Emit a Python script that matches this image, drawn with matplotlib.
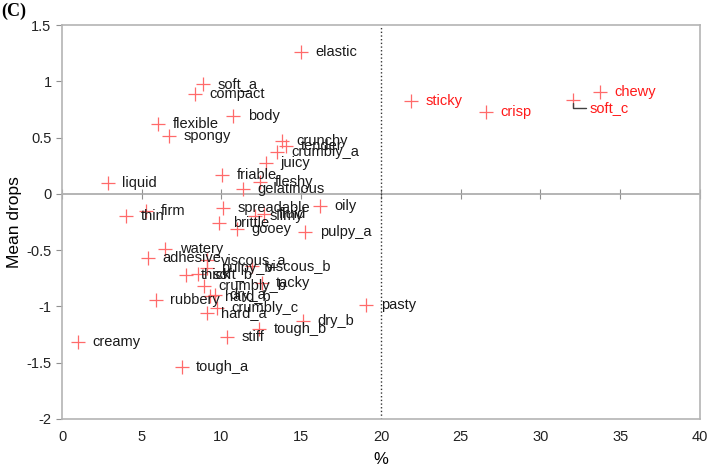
import numpy as np
import matplotlib
matplotlib.use('Agg')
import matplotlib.pyplot as plt
from matplotlib.ticker import FuncFormatter

plt.rcParams['font.family'] = ['Liberation Sans', 'DejaVu Sans']
plt.rcParams['axes.unicode_minus'] = False

# attributes (black labels)
names = ['elastic', 'soft_a', 'compact', 'body', 'flexible', 'spongy', 'crunchy', 'tender',
         'crumbly_a', 'juicy', 'friable', 'fleshy', 'gelatinous', 'liquid', 'thin', 'firm',
         'spreadable', 'oily', 'slimy', 'fluid', 'brittle', 'gooey', 'pulpy_a', 'watery',
         'adhesive', 'viscous_a', 'pulpy_b', 'viscous_b', 'thick', 'soft_b', 'tacky',
         'crumbly_b', 'hard_b', 'dry_a', 'rubbery', 'pasty', 'crumbly_c', 'hard_a',
         'tough_b', 'dry_b', 'stiff', 'creamy', 'tough_a']
pct = [14.97, 8.82, 8.34, 10.74, 6.04, 6.69, 13.77, 14.04,
       13.46, 12.77, 10.05, 12.41, 11.35, 2.86, 4.01, 5.27,
       10.11, 16.18, 12.1, 12.66, 9.84, 10.95, 15.24, 6.46,
       5.41, 9.07, 9.07, 11.89, 7.77, 8.55, 12.52,
       8.9, 9.28, 9.59, 5.87, 19.06, 9.7, 9.07,
       12.37, 15.09, 10.32, 1.02, 7.5]
drops = [1.26, 0.98, 0.887, 0.695, 0.621, 0.517, 0.473, 0.426,
         0.37, 0.272, 0.169, 0.104, 0.044, 0.10, -0.201, -0.151,
         -0.127, -0.106, -0.201, -0.18, -0.26, -0.313, -0.34, -0.488,
         -0.571, -0.586, -0.66, -0.64, -0.72, -0.71, -0.79,
         -0.82, -0.905, -0.896, -0.947, -0.99, -1.01, -1.06,
         -1.198, -1.133, -1.275, -1.316, -1.541]

# significant attributes (red labels)
red_names = ['sticky', 'crisp', 'soft_c', 'chewy']
red_pct = [21.86, 26.58, 32.06, 33.73]
red_drops = [0.828, 0.725, 0.834, 0.902]

fig = plt.figure(figsize=(7.07, 4.72), dpi=100)
ax = fig.add_axes([0.0877, 0.1123, 0.9023, 0.8347])

mcol = '#ff6a6a'
ax.plot(pct, drops, '+', color=mcol, ms=10, mew=0.9, zorder=3)
ax.plot(red_pct, red_drops, '+', color=mcol, ms=10, mew=0.9, zorder=3)

for n, x, y in zip(names, pct, drops):
    ax.annotate(n, (x, y), xytext=(10.5, 0), textcoords='offset points',
                ha='left', va='center', fontsize=10.5, color='#1a1a1a', zorder=4)

for n, x, y in zip(red_names, red_pct, red_drops):
    if n == 'soft_c':
        ax.annotate(n, (x, y), xytext=(12, -6), textcoords='offset points',
                    ha='left', va='center', fontsize=10.5, color='#ff1a1a', zorder=4,
                    arrowprops=dict(arrowstyle='-', color='#404040', lw=1,
                                    shrinkA=1, shrinkB=2,
                                    connectionstyle='angle,angleA=0,angleB=90,rad=0'))
    else:
        ax.annotate(n, (x, y), xytext=(10.5, 0), textcoords='offset points',
                    ha='left', va='center', fontsize=10.5, color='#ff1a1a', zorder=4)

ax.set_xlim(0, 40)
ax.set_ylim(-2, 1.5)
ax.set_xticks(np.arange(0, 41, 5))
ax.set_yticks(np.arange(-2, 1.51, 0.5))
ax.yaxis.set_major_formatter(FuncFormatter(lambda v, p: '%g' % v))

for s in ax.spines.values():
    s.set_color('#b4b4b4')
    s.set_linewidth(1.2)

ax.tick_params(axis='x', length=0, labelsize=10.5, pad=8, colors='#222222')
ax.tick_params(axis='y', length=4, direction='out', color='#909090',
               labelsize=10.5, colors='#222222')

# x axis line at y=0 with ticks crossing it
sec = ax.secondary_xaxis(2 / 3.5)
sec.set_xticks(np.arange(0, 41, 5))
sec.tick_params(direction='inout', length=7, color='#909090', labelbottom=False,
                labeltop=False)
for s in sec.spines.values():
    s.set_color('#a8a8a8')
    s.set_linewidth(1.2)

ax.axvline(20, color='#333333', ls=':', lw=1)

ax.set_xlabel('%', fontsize=12, labelpad=6)
ax.set_ylabel('Mean drops', fontsize=12.5, labelpad=3)

fig.text(0.002, 0.975, '(C)', fontsize=13, fontweight='bold',
         family='Liberation Serif', ha='left', va='center')

fig.savefig('out.png', dpi=100)
